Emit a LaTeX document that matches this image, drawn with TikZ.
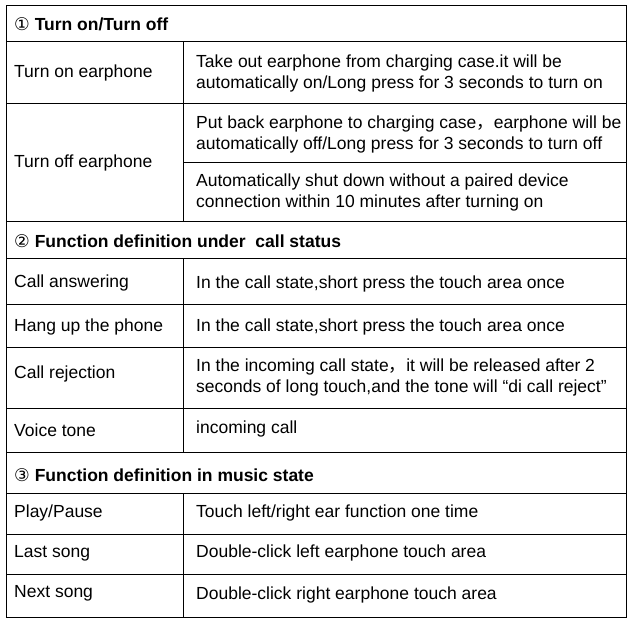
\documentclass[tikz,border=0pt]{standalone}
\usepackage{fontspec}
\setmainfont{Liberation Sans}
\newfontfamily\symf{DejaVu Sans}
\newfontfamily\cjk{Noto Sans CJK SC}
\begin{document}
\begin{tikzpicture}[x=1pt,y=-1pt,
  txt/.style={anchor=west,inner sep=0pt,align=left,font=\fontsize{17.5}{21}\selectfont},
  hd/.style={txt,font=\fontsize{17.5}{21}\selectfont\bfseries},
  grid/.style={line width=1pt,black}]
\useasboundingbox (0,0) rectangle (630,623);
\fill[white] (0,0) rectangle (630,623);
\draw[grid] (6,6) rectangle (626,617);
\foreach \y in {42,104,222,259,304,347,408,452,493,534,574} \draw[grid] (6,\y) -- (626,\y);
\draw[grid] (183,163) -- (626,163);
\draw[grid] (183,42) -- (183,222);
\draw[grid] (183,259) -- (183,452);
\draw[grid] (183,493) -- (183,617);
\node[hd] (h1) at (14,24) {{\symf\mdseries ①} Turn on/Turn off};
\node[txt] (a1) at (14,73) {Turn on earphone};
\node[txt] (b1) at (196,73) {Take out earphone from charging case.it will be\\automatically on/Long press for 3 seconds to turn on};
\node[txt] (a2) at (14,163) {Turn off earphone};
\node[txt] (b2) at (196,134) {Put back earphone to charging case{\cjk ，}earphone will be\\automatically off/Long press for 3 seconds to turn off};
\node[txt] (b3) at (196,192) {Automatically shut down without a paired device\\connection within 10 minutes after turning on};
\node[hd] (h2) at (14,241) {{\symf\mdseries ②} Function definition under\ \ call status};
\node[txt] (a3) at (14,283) {Call answering};
\node[txt] (b4) at (196,284) {In the call state,short press the touch area once};
\node[txt] (a4) at (14,327) {Hang up the phone};
\node[txt] (b5) at (196,327) {In the call state,short press the touch area once};
\node[txt] (a5) at (14,374) {Call rejection};
\node[txt] (b6) at (196,377) {In the incoming call state{\cjk ，}it will be released after 2\\seconds of long touch,and the tone will “di call reject”};
\node[txt] (a6) at (14,430) {Voice tone};
\node[txt] (b7) at (196,429) {incoming call};
\node[hd] (h3) at (14,475) {{\symf\mdseries ③} Function definition in music state};
\node[txt] (a7) at (14,513) {Play/Pause};
\node[txt] (b8) at (196,513) {Touch left/right ear function one time};
\node[txt] (a8) at (14,553) {Last song};
\node[txt] (b9) at (196,553) {Double-click left earphone touch area};
\node[txt] (a9) at (14,593) {Next song};
\node[txt] (b10) at (196,595) {Double-click right earphone touch area};
\end{tikzpicture}
\end{document}
